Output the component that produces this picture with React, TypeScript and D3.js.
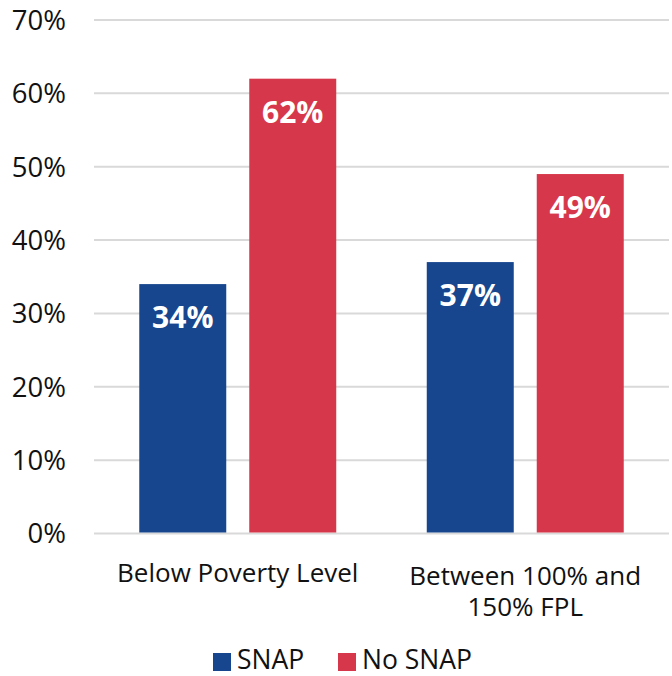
import React from "react";
import * as d3 from "d3";

const categories = ["Below Poverty Level", "Between 100% and 150% FPL"];
const categoryLines = [["Below Poverty Level"], ["Between 100% and", "150% FPL"]];
const seriesNames = ["SNAP", "No SNAP"];
const snapValues = [0.34, 0.37];
const noSnapValues = [0.62, 0.49];
const yTicks = [0, 0.1, 0.2, 0.3, 0.4, 0.5, 0.6, 0.7];
const colors = ["#17468e", "#d7374a"];

const W = 672;
const H = 676;
const FONT = "'Open Sans', 'Noto Sans', sans-serif";

export default function App() {
  const y = d3.scaleLinear().domain([0, 0.7]).range([533.5, 20]);
  const x0 = d3.scaleBand<string>().domain(categories).range([94, 669]);
  const x1 = d3
    .scaleBand<string>()
    .domain(seriesNames)
    .range([0, x0.bandwidth()])
    .paddingInner(23 / 110)
    .paddingOuter(0.4115);
  const seriesValues = [snapValues, noSnapValues];
  const fmt = d3.format(".0%");

  return (
    <svg
      width={W}
      height={H}
      style={{ position: "absolute", left: 0, top: 0, background: "#fff" }}
      fontFamily={FONT}
    >
      {yTicks.map((t) => (
        <g key={t}>
          <line x1={94} x2={669} y1={y(t)} y2={y(t)} stroke="#d9d9d9" strokeWidth={2} />
          <text x={66} y={y(t)} dy="0.36em" textAnchor="end" fontSize={27.5} fill="#111">
            {fmt(t)}
          </text>
        </g>
      ))}
      {categories.map((c, ci) => (
        <g key={c} transform={`translate(${x0(c)},0)`}>
          {seriesNames.map((s, si) => {
            const v = seriesValues[si][ci];
            const bx = x1(s)!;
            const bw = x1.bandwidth();
            return (
              <g key={s}>
                <rect x={bx} y={y(v)} width={bw} height={y(0) - y(v) - 1} fill={colors[si]} />
                <text
                  x={bx + bw / 2}
                  y={y(v) + 44}
                  textAnchor="middle"
                  fontSize={30}
                  fontWeight={700}
                  fill="#fff"
                >
                  {fmt(v)}
                </text>
              </g>
            );
          })}
          <text
            x={x0.bandwidth() / 2}
            y={categoryLines[ci].length > 1 ? 585 : 582}
            textAnchor="middle"
            fontSize={26}
            fill="#111"
          >
            {categoryLines[ci].map((line, li) => (
              <tspan key={li} x={x0.bandwidth() / 2} dy={li === 0 ? 0 : 31}>
                {line}
              </tspan>
            ))}
          </text>
        </g>
      ))}
      <g>
        <rect x={213} y={653} width={18} height={18} fill={colors[0]} />
        <text x={237} y={669} fontSize={26.5} fill="#111">
          {seriesNames[0]}
        </text>
        <rect x={338} y={653} width={18} height={18} fill={colors[1]} />
        <text x={362} y={669} fontSize={26.5} fill="#111">
          {seriesNames[1]}
        </text>
      </g>
    </svg>
  );
}
